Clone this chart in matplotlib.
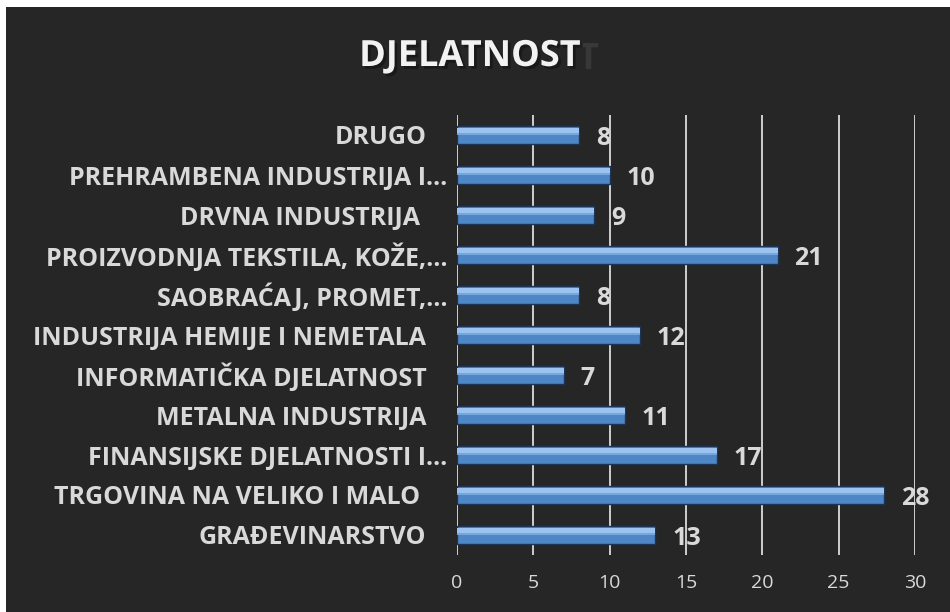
import matplotlib
matplotlib.use('Agg')
import matplotlib.pyplot as plt
import matplotlib.patheffects as pe
from matplotlib.patches import Rectangle
from matplotlib.transforms import ScaledTranslation

categories = ['DRUGO', 'PREHRAMBENA INDUSTRIJA I…', 'DRVNA INDUSTRIJA ',
              'PROIZVODNJA TEKSTILA, KOŽE,…', 'SAOBRAĆAJ, PROMET,…',
              'INDUSTRIJA HEMIJE I NEMETALA', 'INFORMATIČKA DJELATNOST',
              'METALNA INDUSTRIJA', 'FINANSIJSKE DJELATNOSTI I…',
              'TRGOVINA NA VELIKO I MALO ', 'GRAĐEVINARSTVO']
values = [8, 10, 9, 21, 8, 12, 7, 11, 17, 28, 13]
xticks = [0, 5, 10, 15, 20, 25, 30]

plt.rcParams['font.family'] = ['Open Sans', 'DejaVu Sans']
bg = '#262626'
txt = '#d9d9d9'

fig = plt.figure(figsize=(9.5, 6.12), dpi=100, facecolor='white')
fig.patches.append(Rectangle((6 / 950, 0), 1, 1 - 7 / 612, transform=fig.transFigure,
                             facecolor=bg, edgecolor='none', zorder=-10))
ax = fig.add_axes([457 / 950, 1 - 555 / 612, (915 - 457) / 950, 440 / 612])
ax.set_facecolor('none')

ypos = list(range(len(categories)))
# bar body, darker lower part and highlight on top for the bevel look
ax.barh(ypos, values, height=0.47, color='#4f86c6', edgecolor='#1c3557', linewidth=1, zorder=3)
ax.barh([y - 0.1 for y in ypos], values, height=0.17, color='#9cc3f0', edgecolor='none', zorder=4)
ax.barh([y - 0.03 for y in ypos], values, height=0.06, color='#74a6e0', edgecolor='none', zorder=4)

for y, v in zip(ypos, values):
    ax.annotate(str(v), (v, y), xytext=(12, -2.5), textcoords='offset points',
                ha='left', va='center', fontsize=18, fontweight='bold', color=txt, zorder=5)

ax.set_xlim(0, 30)
ax.set_ylim(10.5, -0.5)
ax.set_xticks(xticks)
ax.set_xticklabels([str(t) for t in xticks])
ax.set_yticks(ypos)
ax.set_yticklabels(categories)
ax.grid(True, axis='x', color='#ececec', linewidth=1.2, zorder=1)
for s in ax.spines.values():
    s.set_visible(False)
ax.tick_params(axis='x', length=0, pad=14, labelsize=14, labelcolor=txt)
ax.tick_params(axis='y', length=0, pad=22, labelsize=18, labelcolor=txt)
shift = ScaledTranslation(0.21, 0, fig.dpi_scale_trans)
for lab in ax.get_yticklabels():
    lab.set_fontweight('bold')
    if lab.get_text().endswith('…'):
        lab.set_transform(lab.get_transform() + shift)

fig.text(588 / 950, 1 - 60 / 612, 'T', ha='center', va='center', fontsize=26,
         fontweight='bold', color='#383838')
fig.text(470 / 950, 1 - 57 / 612, 'DJELATNOST', ha='center', va='center', fontsize=26,
         fontweight='bold', color='#f2f2f2',
         path_effects=[pe.withSimplePatchShadow(offset=(2, -2), shadow_rgbFace='#111111', alpha=0.6)])

fig.savefig('out.png', dpi=100, facecolor=fig.get_facecolor())
